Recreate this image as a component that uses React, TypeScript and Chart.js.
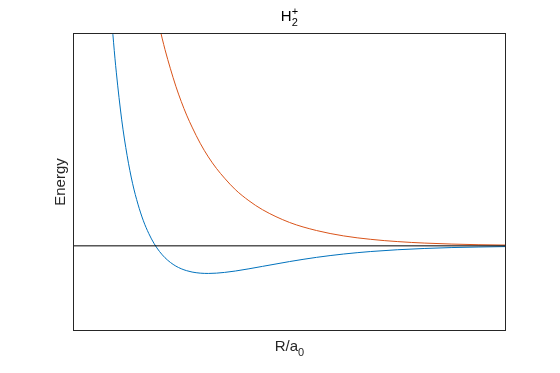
import React, { useEffect, useRef } from "react";
import { Chart, registerables } from "chart.js";

Chart.register(...registerables);

// Internuclear distance R (bohr)
const R_BONDING = [0.6, 0.7, 0.75, 0.8, 0.9, 1.0, 1.1, 1.2, 1.3, 1.4, 1.5, 1.6, 1.7, 1.8, 1.9, 2.0, 2.1, 2.2, 2.35, 2.5, 2.65, 2.8, 3.0, 3.25, 3.5, 4.0, 4.5, 5.0, 5.5, 6.0, 6.5, 7.0, 7.5, 8.0];
const E_BONDING = [0.771, 0.559, 0.477, 0.408, 0.296, 0.212, 0.147, 0.098, 0.059, 0.029, 0.005, -0.0135, -0.0279, -0.039, -0.0475, -0.0538, -0.0583, -0.0615, -0.0641, -0.0648, -0.0641, -0.0624, -0.0591, -0.0539, -0.0482, -0.0369, -0.027, -0.0192, -0.0133, -0.0091, -0.0061, -0.004, -0.0027, -0.0017];

const R_ANTI = [1.4, 1.5, 1.6, 1.7, 1.8, 1.9, 2.0, 2.1, 2.2, 2.35, 2.5, 2.65, 2.8, 3.0, 3.25, 3.5, 4.0, 4.5, 5.0, 5.5, 6.0, 6.5, 7.0, 7.5, 8.0];
const E_ANTI = [0.641, 0.573, 0.513, 0.461, 0.416, 0.375, 0.339, 0.307, 0.279, 0.241, 0.209, 0.182, 0.159, 0.132, 0.106, 0.085, 0.055, 0.036, 0.0234, 0.0153, 0.01, 0.0065, 0.0042, 0.0027, 0.0018];

const R_ZERO = [0, 8];
const E_ZERO = [0, 0];

const X_MIN = 0;
const X_MAX = 8;
const Y_MIN = -0.2;
const Y_MAX = 0.5;

const TITLE_BASE = "H";
const TITLE_SUB = "2";
const TITLE_SUP = "+";
const XLABEL_BASE = "R/a";
const XLABEL_SUB = "0";
const YLABEL = "Energy";

const FONT = "Liberation Sans, Arial, Helvetica, sans-serif";

const toPts = (xs: number[], ys: number[]) => xs.map((x, i) => ({ x, y: ys[i] }));

const decorPlugin = {
  id: "decor",
  afterDraw(chart: any) {
    const { ctx, chartArea } = chart;
    const { left, right, top, bottom } = chartArea;
    ctx.save();
    // axes box
    ctx.strokeStyle = "#262626";
    ctx.lineWidth = 1;
    ctx.strokeRect(Math.round(left) + 0.5, Math.round(top) + 0.5, Math.round(right - left) - 1, Math.round(bottom - top) - 1);

    const cx = (left + right) / 2;
    const big = "15px " + FONT;
    const small = "11px " + FONT;

    // title
    ctx.fillStyle = "#000";
    ctx.textBaseline = "alphabetic";
    ctx.textAlign = "left";
    ctx.font = big;
    const wH = ctx.measureText(TITLE_BASE).width;
    ctx.font = small;
    const wS = Math.max(ctx.measureText(TITLE_SUB).width, ctx.measureText(TITLE_SUP).width);
    let x0 = cx - (wH + wS) / 2;
    ctx.font = big;
    ctx.fillText(TITLE_BASE, x0, 21);
    ctx.font = small;
    ctx.fillText(TITLE_SUB, x0 + wH, 26);
    ctx.fillText(TITLE_SUP, x0 + wH, 15);

    // x label
    ctx.fillStyle = "#262626";
    ctx.font = big;
    const wR = ctx.measureText(XLABEL_BASE).width;
    ctx.font = small;
    const w0 = ctx.measureText(XLABEL_SUB).width;
    x0 = cx - (wR + w0) / 2;
    ctx.font = big;
    ctx.fillText(XLABEL_BASE, x0, 351);
    ctx.font = small;
    ctx.fillText(XLABEL_SUB, x0 + wR, 356);

    // y label
    ctx.translate(65, (top + bottom) / 2);
    ctx.rotate(-Math.PI / 2);
    ctx.textAlign = "center";
    ctx.font = big;
    ctx.fillText(YLABEL, 0, 0);
    ctx.restore();
  },
};

export default function App() {
  const ref = useRef<HTMLCanvasElement>(null);
  useEffect(() => {
    if (!ref.current) return;
    const chart = new Chart(ref.current, {
      type: "line",
      data: {
        datasets: [
          {
            data: toPts(R_ZERO, E_ZERO),
            borderColor: "#000000",
            borderWidth: 1,
            pointRadius: 0,
            tension: 0,
          },
          {
            data: toPts(R_BONDING, E_BONDING),
            borderColor: "#0072BD",
            borderWidth: 1,
            pointRadius: 0,
            cubicInterpolationMode: "monotone",
          },
          {
            data: toPts(R_ANTI, E_ANTI),
            borderColor: "#D95319",
            borderWidth: 1,
            pointRadius: 0,
            cubicInterpolationMode: "monotone",
          },
        ],
      },
      options: {
        responsive: false,
        animation: false,
        events: [],
        layout: { padding: { left: 73, right: 54, top: 33, bottom: 42 } },
        plugins: { legend: { display: false }, tooltip: { enabled: false }, title: { display: false } },
        scales: {
          x: { type: "linear", min: X_MIN, max: X_MAX, display: false },
          y: { type: "linear", min: Y_MIN, max: Y_MAX, display: false },
        },
      },
      plugins: [decorPlugin],
    } as any);
    return () => chart.destroy();
  }, []);
  return (
    <div style={{ position: "fixed", left: 0, top: 0, width: 560, height: 373, background: "#fff" }}>
      <canvas ref={ref} width={560} height={373} style={{ width: 560, height: 373, display: "block" }} />
    </div>
  );
}
